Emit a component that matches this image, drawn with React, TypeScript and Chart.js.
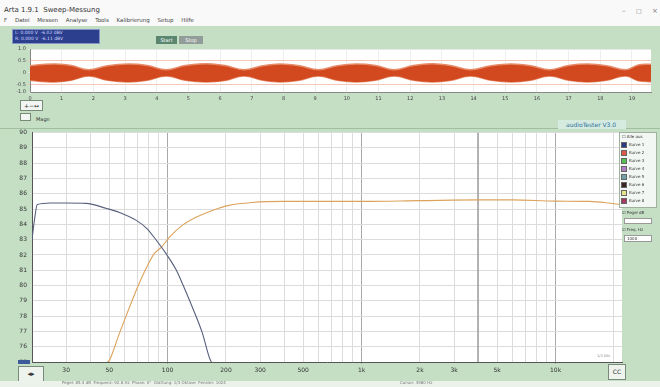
import React, { useEffect, useRef } from "react";
import { Chart, registerables } from "chart.js";

Chart.register(...registerables);

// ---- main frequency-response chart data ----
const lowPassHz = [20, 20.6, 21.3, 25, 30, 38, 48.5, 56.5, 69, 78, 87.5, 98, 111, 119, 134, 151, 164, 168, 172];
const lowPassDb = [83.0, 84.3, 85.3, 85.4, 85.4, 85.37, 85.04, 84.78, 84.26, 83.74, 82.96, 82.1, 81.0, 80.15, 78.6, 76.9, 75.3, 75.0, 74.6];

const highPassHz = [47, 49.1, 50.2, 56.5, 63.6, 70, 78, 85.5, 92.8, 102, 119, 140, 170, 207, 272, 400, 700, 1000, 2000, 4000, 6000, 10000, 15000, 20000, 22000];
const highPassDb = [74.6, 75.0, 75.13, 76.89, 78.58, 79.89, 81.19, 82.1, 82.5, 83.15, 83.93, 84.46, 84.91, 85.24, 85.43, 85.5, 85.5, 85.5, 85.55, 85.6, 85.6, 85.52, 85.5, 85.35, 85.3];

const markerHz = [3980];

const freqGridHz = [20, 30, 40, 50, 60, 70, 80, 90, 100, 200, 300, 400, 500, 600, 700, 800, 900, 1000, 2000, 3000, 4000, 5000, 6000, 7000, 8000, 9000, 10000, 20000];
const decadeHz = [100, 1000, 10000];
const freqLabelHz = [30, 50, 100, 200, 300, 500, 1000, 2000, 3000, 5000, 10000, 20000];
const freqLabelText = ["30", "50", "100", "200", "300", "500", "1k", "2k", "3k", "5k", "10k", "20k"];

const levelTicks = [90, 89, 88, 87, 86, 85, 84, 83, 82, 81, 80, 79, 78, 77, 76, 75];

// ---- waveform strip data ----
const waveTime = [0, 0.4, 0.8, 1.3, 1.85, 2.45, 3.1, 3.7, 4.3, 4.9, 5.55, 6.15, 6.75, 7.35, 7.9, 8.5, 9.1, 9.7, 10.3, 10.9, 11.5, 12.1, 12.7, 13.3, 13.9, 14.55, 15.2, 15.8, 16.4, 17.0, 17.6, 18.2, 18.8, 19.2, 19.6];
const waveUpper = [0.30, 0.35, 0.37, 0.31, 0.13, 0.30, 0.37, 0.31, 0.13, 0.31, 0.38, 0.31, 0.13, 0.30, 0.37, 0.30, 0.13, 0.30, 0.37, 0.31, 0.13, 0.31, 0.38, 0.30, 0.13, 0.30, 0.37, 0.30, 0.13, 0.31, 0.37, 0.30, 0.13, 0.33, 0.36];
const waveLower = [-0.31, -0.36, -0.38, -0.31, -0.13, -0.31, -0.38, -0.31, -0.13, -0.31, -0.38, -0.32, -0.13, -0.31, -0.38, -0.31, -0.13, -0.31, -0.38, -0.31, -0.13, -0.31, -0.38, -0.31, -0.13, -0.31, -0.38, -0.31, -0.13, -0.31, -0.38, -0.31, -0.13, -0.33, -0.37];
const waveTimeTicks = [0, 1, 2, 3, 4, 5, 6, 7, 8, 9, 10, 11, 12, 13, 14, 15, 16, 17, 18, 19];
const waveLevelTicks = [1, 0.5, 0, -0.5, -0.8];
const waveLevelText = ["1.0", "0.5", "0", "-0.5", "-1.0"];

// ---- legend ----
const legendNames = ["Kurve 1", "Kurve 2", "Kurve 3", "Kurve 4", "Kurve 5", "Kurve 6", "Kurve 7", "Kurve 8"];
const legendColors = ["#2c3a86", "#e2554a", "#52c052", "#b27cc6", "#6fa3a8", "#3a2424", "#e4e48a", "#a43a62"];

const FONT = "DejaVu Sans";
const GREEN = "#c5dfc5";

const plotBg = {
  id: "plotBg",
  beforeDraw(chart: any) {
    const { ctx, chartArea } = chart;
    ctx.save();
    ctx.fillStyle = "#ffffff";
    ctx.fillRect(chartArea.left, chartArea.top, chartArea.width, chartArea.height);
    ctx.restore();
  },
};

export default function App() {
  const waveRef = useRef<HTMLCanvasElement>(null);
  const mainRef = useRef<HTMLCanvasElement>(null);

  useEffect(() => {
    document.body.style.margin = "0";

    const wave = new Chart(waveRef.current!, {
      type: "line",
      data: {
        datasets: [
          {
            data: waveTime.map((t, i) => ({ x: t, y: waveUpper[i] })),
            borderColor: "#e68a68",
            backgroundColor: "#d3491f",
            borderWidth: 1.5,
            fill: "+1",
            tension: 0.4,
            pointRadius: 0,
          },
          {
            data: waveTime.map((t, i) => ({ x: t, y: waveLower[i] })),
            borderColor: "#e68a68",
            backgroundColor: "#d3491f",
            borderWidth: 1.5,
            fill: false,
            tension: 0.4,
            pointRadius: 0,
          },
        ],
      },
      options: {
        animation: false,
        responsive: false,
        layout: { padding: { left: 0, right: 9, top: 5, bottom: 0 } },
        plugins: { legend: { display: false }, tooltip: { enabled: false } },
        scales: {
          x: {
            type: "linear",
            min: 0,
            max: 19.6,
            afterBuildTicks: (s: any) => {
              s.ticks = waveTimeTicks.map((v) => ({ value: v }));
            },
            afterFit: (s: any) => {
              s.height = 14;
            },
            ticks: { autoSkip: false, maxRotation: 0, color: "#444", font: { size: 5, family: FONT }, padding: 2 },
            grid: { color: "#eeeeee", tickLength: 2 },
            border: { color: "#888" },
          },
          y: {
            type: "linear",
            min: -0.8,
            max: 1,
            afterBuildTicks: (s: any) => {
              s.ticks = waveLevelTicks.map((v) => ({ value: v }));
            },
            afterFit: (s: any) => {
              s.width = 30;
            },
            ticks: {
              color: "#444",
              font: { size: 5, family: FONT },
              padding: 2,
              callback: (v: any) => {
                const i = waveLevelTicks.indexOf(Number(v));
                return i >= 0 ? waveLevelText[i] : "";
              },
            },
            grid: { color: (c: any) => (c.tick && Math.abs(c.tick.value) === 0.5 ? "#f3c6b8" : "#e8e8e8"), tickLength: 2 },
            border: { color: "#888" },
          },
        },
      },
      plugins: [plotBg],
    } as any);

    const main = new Chart(mainRef.current!, {
      type: "line",
      data: {
        datasets: [
          {
            data: lowPassHz.map((f, i) => ({ x: f, y: lowPassDb[i] })),
            borderColor: "#56607c",
            borderWidth: 1.1,
            cubicInterpolationMode: "monotone",
            pointRadius: 0,
            fill: false,
          },
          {
            data: highPassHz.map((f, i) => ({ x: f, y: highPassDb[i] })),
            borderColor: "#dca35c",
            borderWidth: 1.1,
            cubicInterpolationMode: "monotone",
            pointRadius: 0,
            fill: false,
          },
          ...markerHz.map((f) => ({
            data: [
              { x: f, y: levelTicks[levelTicks.length - 1] },
              { x: f, y: levelTicks[0] },
            ],
            borderColor: "#7a7a7a",
            borderWidth: 1,
            pointRadius: 0,
            fill: false,
          })),
        ],
      },
      options: {
        animation: false,
        responsive: false,
        layout: { padding: { left: 0, right: 38, top: 6, bottom: 0 } },
        plugins: { legend: { display: false }, tooltip: { enabled: false } },
        scales: {
          x: {
            type: "logarithmic",
            min: 20,
            max: 22000,
            afterBuildTicks: (s: any) => {
              s.ticks = freqGridHz.map((v) => ({ value: v }));
            },
            afterFit: (s: any) => {
              s.height = 18;
            },
            ticks: {
              autoSkip: false,
              maxRotation: 0,
              color: "#333",
              font: { size: 6, family: FONT },
              padding: 3,
              callback: (v: any) => {
                const i = freqLabelHz.indexOf(Number(v));
                return i >= 0 ? freqLabelText[i] : "";
              },
            },
            grid: {
              color: (c: any) => (c.tick && decadeHz.includes(c.tick.value) ? "#a9a9a9" : "#dcdcdc"),
              tickLength: 2,
            },
            border: { color: "#555" },
          },
          y: {
            type: "linear",
            min: 75,
            max: 90,
            afterBuildTicks: (s: any) => {
              s.ticks = levelTicks.map((v) => ({ value: v }));
            },
            afterFit: (s: any) => {
              s.width = 32;
            },
            ticks: { color: "#333", font: { size: 6, family: FONT }, padding: 3 },
            grid: { color: "#dcdcdc", tickLength: 2 },
            border: { color: "#555" },
          },
        },
      },
      plugins: [plotBg],
    } as any);

    return () => {
      wave.destroy();
      main.destroy();
    };
  }, []);

  const tiny: React.CSSProperties = { position: "absolute", fontFamily: FONT, whiteSpace: "nowrap", lineHeight: 1 };

  return (
    <div style={{ position: "fixed", left: 0, top: 0, width: 660, height: 387, background: GREEN, overflow: "hidden", fontFamily: FONT }}>
      {/* title + menu */}
      <div style={{ position: "absolute", left: 0, top: 0, width: 660, height: 26, background: "#f9f9f9" }} />
      <div style={{ ...tiny, left: 4, top: 7, fontSize: 7, color: "#333" }}>Arta 1.9.1&nbsp;&nbsp;Sweep-Messung</div>
      <div style={{ ...tiny, left: 4, top: 18, fontSize: 5.5, color: "#444", wordSpacing: 6 }}>
        F&nbsp;Datei&nbsp;Messen&nbsp;Analyse&nbsp;Tools&nbsp;Kalibrierung&nbsp;Setup&nbsp;Hilfe
      </div>
      <div style={{ ...tiny, left: 622, top: 8, fontSize: 7, color: "#777" }}>–</div>
      <div style={{ ...tiny, left: 636, top: 8, fontSize: 6, color: "#777" }}>□</div>
      <div style={{ ...tiny, left: 652, top: 8, fontSize: 7, color: "#777" }}>×</div>

      {/* toolbar */}
      <div style={{ position: "absolute", left: 12, top: 29, width: 88, height: 15, background: "#2c3f8e", border: "1px solid #8595c8", boxSizing: "border-box" }} />
      <div style={{ ...tiny, left: 15, top: 31, fontSize: 4.5, color: "#cfd8ff" }}>L: 0.000 V&nbsp;&nbsp;-6.02 dBV</div>
      <div style={{ ...tiny, left: 15, top: 37, fontSize: 4.5, color: "#cfd8ff" }}>R: 0.000 V&nbsp;&nbsp;-6.11 dBV</div>
      <div style={{ position: "absolute", left: 156, top: 36, width: 21, height: 8, background: "#5b8670", color: "#fff", fontSize: 5, textAlign: "center", lineHeight: "8px" }}>Start</div>
      <div style={{ position: "absolute", left: 179, top: 36, width: 24, height: 8, background: "#929d99", color: "#fff", fontSize: 5, textAlign: "center", lineHeight: "8px" }}>Stop</div>

      {/* waveform strip */}
      <canvas ref={waveRef} width={660} height={62} style={{ position: "absolute", left: 0, top: 44 }} />

      {/* small control buttons */}
      <div style={{ position: "absolute", left: 20, top: 100, width: 23, height: 11, background: "#f2f6f2", border: "1px solid #7a8a7a", boxSizing: "border-box", fontSize: 6, color: "#333", lineHeight: "9px", textAlign: "center" }}>+−↔</div>
      <div style={{ position: "absolute", left: 20, top: 113, width: 11, height: 8, background: "#f2f6f2", border: "1px solid #7a8a7a", boxSizing: "border-box" }} />
      <div style={{ ...tiny, left: 36, top: 117, fontSize: 5, color: "#333" }}>Magn</div>
      <div style={{ position: "absolute", left: 0, top: 128, width: 660, height: 1, background: "#9fbf9f" }} />
      <div style={{ position: "absolute", left: 558, top: 120, width: 68, height: 9, background: "#d5ebdf" }} />
      <div style={{ ...tiny, left: 566, top: 122, fontSize: 6, color: "#2d6f9e" }}>audioTester V3.0</div>

      {/* main chart */}
      <canvas ref={mainRef} width={660} height={254} style={{ position: "absolute", left: 0, top: 126 }} />
      <div style={{ position: "absolute", left: 18, top: 360, width: 12, height: 4, background: "#3d5a9a" }} />
      <div style={{ ...tiny, left: 597, top: 355, fontSize: 3.5, color: "#888" }}>1/3 Okt.</div>

      {/* legend panel */}
      <div style={{ position: "absolute", left: 619, top: 132, width: 38, height: 76, background: "#f3f7f3", border: "1px solid #9fb09f", boxSizing: "border-box" }} />
      <div style={{ ...tiny, left: 622, top: 135, fontSize: 4, color: "#333" }}>☐ Alle aus</div>
      {legendNames.map((n, i) => (
        <React.Fragment key={n}>
          <div style={{ position: "absolute", left: 621, top: 142 + i * 8, width: 6, height: 6, background: legendColors[i], border: "1px solid #666", boxSizing: "border-box" }} />
          <div style={{ ...tiny, left: 629, top: 143 + i * 8, fontSize: 4, color: "#333" }}>{n}</div>
        </React.Fragment>
      ))}
      <div style={{ ...tiny, left: 622, top: 211, fontSize: 4, color: "#333" }}>☑ Pegel dB</div>
      <div style={{ position: "absolute", left: 624, top: 218, width: 28, height: 6, background: "#fff", border: "1px solid #999", boxSizing: "border-box" }} />
      <div style={{ ...tiny, left: 622, top: 228, fontSize: 4, color: "#333" }}>☑ Freq. Hz</div>
      <div style={{ position: "absolute", left: 624, top: 235, width: 28, height: 7, background: "#fff", border: "1px solid #999", boxSizing: "border-box", fontSize: 4, color: "#333", lineHeight: "5px", paddingLeft: 2 }}>1000</div>

      {/* bottom controls */}
      <div style={{ position: "absolute", left: 18, top: 366, width: 26, height: 17, background: "#eef3ee", border: "1px solid #7a8a7a", boxSizing: "border-box", fontSize: 7, color: "#333", lineHeight: "15px", textAlign: "center" }}>◂▸</div>
      <div style={{ position: "absolute", left: 608, top: 364, width: 18, height: 16, background: "#eef3ee", border: "1px solid #7a8a7a", boxSizing: "border-box", fontSize: 6, color: "#333", lineHeight: "14px", textAlign: "center" }}>CC</div>
      <div style={{ position: "absolute", left: 0, top: 381, width: 660, height: 6, background: "#eaf2ea" }} />
      <div style={{ ...tiny, left: 62, top: 381, fontSize: 4, color: "#777" }}>Pegel: 85.4 dB&nbsp;&nbsp;Frequenz: 92.8 Hz&nbsp;&nbsp;Phase: 0°&nbsp;&nbsp;Glättung: 1/3 Oktave&nbsp;&nbsp;Fenster: 1024</div>
      <div style={{ ...tiny, left: 400, top: 381, fontSize: 4, color: "#777" }}>Cursor: 3980 Hz</div>
    </div>
  );
}
